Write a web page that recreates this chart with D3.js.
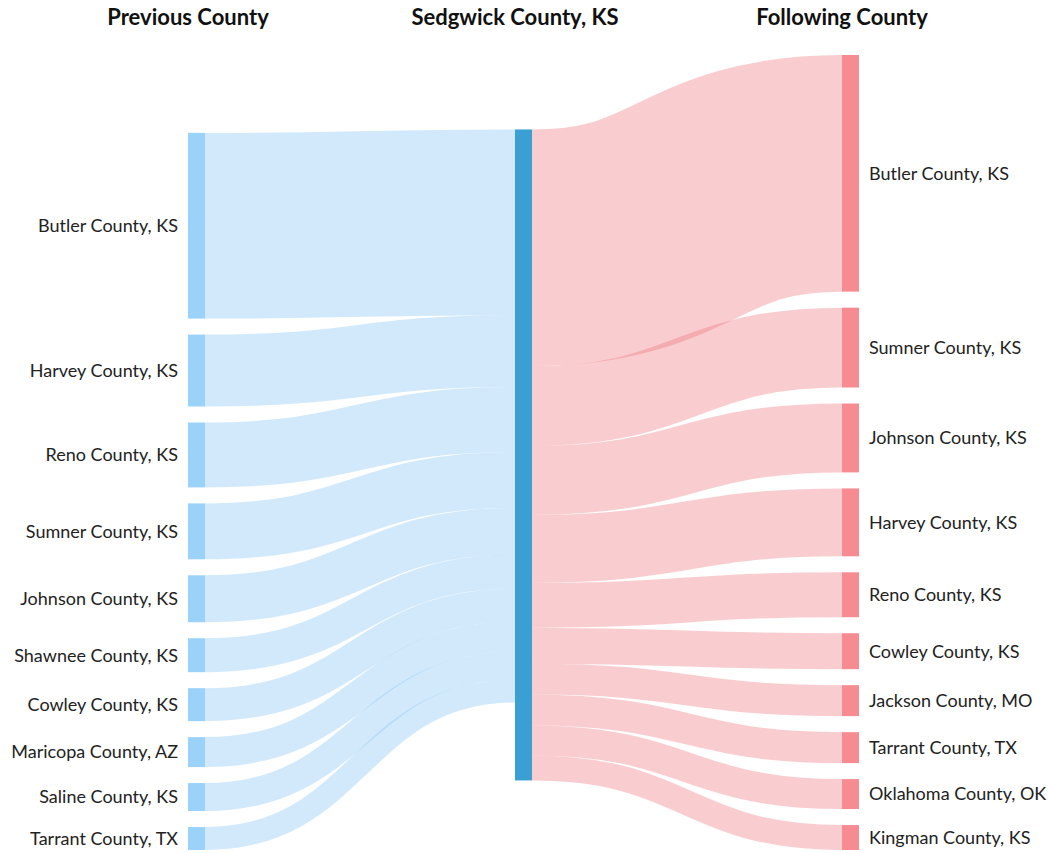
<!DOCTYPE html>
<html>
<head>
<meta charset="utf-8">
<script src="https://cdn.jsdelivr.net/npm/d3@7"></script>
<style>
  html, body { margin: 0; padding: 0; background: #fff; }
  svg { display: block; font-family: Lato, "Open Sans", sans-serif; }
</style>
</head>
<body>
<svg id="chart" width="1048" height="853"></svg>
<script>
// ---- data ----
const columnTitles = ["Previous County", "Sedgwick County, KS", "Following County"];
const centerCounty = "Sedgwick County, KS";
const prevCounties = ["Butler County, KS", "Harvey County, KS", "Reno County, KS", "Sumner County, KS",
  "Johnson County, KS", "Shawnee County, KS", "Cowley County, KS", "Maricopa County, AZ",
  "Saline County, KS", "Tarrant County, TX"];
const prevValues = [186, 72, 65, 56, 47, 34, 33, 30, 28, 23];
const nextCounties = ["Butler County, KS", "Sumner County, KS", "Johnson County, KS", "Harvey County, KS",
  "Reno County, KS", "Cowley County, KS", "Jackson County, MO", "Tarrant County, TX",
  "Oklahoma County, OK", "Kingman County, KS"];
const nextValues = [237, 80, 69, 68, 45, 36, 31, 31, 30, 25];

// ---- layout ----
const nodeW = 17, pad = 16;
const extTop = 55, extBottom = 850;
const colX = d3.scalePoint().domain([0, 1, 2]).range([188, 842]);

const sumPrev = d3.sum(prevValues), sumNext = d3.sum(nextValues);
const maxN = Math.max(prevValues.length, nextValues.length);
const ky = (extBottom - extTop - (maxN - 1) * pad) / Math.max(sumPrev, sumNext);
const hScale = d3.scaleLinear().domain([0, 1]).range([0, ky]);

function stack(values, names, alignBottom, col) {
  const total = d3.sum(values) * ky + (values.length - 1) * pad;
  let y = alignBottom ? extBottom - total : extTop;
  return values.map((v, i) => {
    const n = { name: names[i], value: v, col, y0: y, y1: y + hScale(v) };
    y = n.y1 + pad;
    return n;
  });
}
const leftNodes = stack(prevValues, prevCounties, true, 0);
const rightNodes = stack(nextValues, nextCounties, false, 2);

// center node: weighted relaxation towards connected nodes
let accIn = 0, sIn = 0;
leftNodes.forEach(n => { sIn += (n.y0 - hScale(accIn)) * n.value; accIn += n.value; });
let accOut = 0, sOut = 0;
rightNodes.forEach(n => { sOut += (n.y0 - hScale(accOut)) * n.value; accOut += n.value; });
const cY0 = (sIn + sOut) / (sumPrev + sumNext) - 4;
const centerNode = { name: centerCounty, value: Math.max(sumPrev, sumNext), col: 1, y0: cY0, y1: cY0 + hScale(Math.max(sumPrev, sumNext)) };

// links
const links = [];
let yc = centerNode.y0;
leftNodes.forEach(n => {
  const w = hScale(n.value);
  links.push({ side: "in", width: w, sy: n.y0 + w / 2, ty: yc + w / 2, sx: colX(0) + nodeW, tx: colX(1) });
  yc += w;
});
yc = centerNode.y0;
rightNodes.forEach(n => {
  const w = hScale(n.value);
  links.push({ side: "out", width: w, sy: yc + w / 2, ty: n.y0 + w / 2, sx: colX(1) + nodeW, tx: colX(2) });
  yc += w;
});

const colors = { left: "#9bd2fa", center: "#3a9fd3", right: "#f78b92", linkIn: "#7cc0f4", linkOut: "#ee7079" };

const svg = d3.select("#chart");
const linkGen = d3.linkHorizontal().x(d => d[0]).y(d => d[1]);

svg.append("g").attr("fill", "none")
  .selectAll("path").data(links).join("path")
  .attr("d", d => linkGen({ source: [d.sx, d.sy], target: [d.tx, d.ty] }))
  .attr("stroke", d => d.side === "in" ? colors.linkIn : colors.linkOut)
  .attr("stroke-opacity", 0.35)
  .attr("stroke-width", d => Math.max(1, d.width));

const allNodes = [...leftNodes, centerNode, ...rightNodes];
svg.append("g").selectAll("rect").data(allNodes).join("rect")
  .attr("x", d => colX(d.col))
  .attr("y", d => d.y0)
  .attr("width", nodeW)
  .attr("height", d => d.y1 - d.y0)
  .attr("fill", d => d.col === 0 ? colors.left : d.col === 1 ? colors.center : colors.right);

// labels
svg.append("g").attr("font-size", 18).attr("fill", "#222")
  .selectAll("text").data([...leftNodes, ...rightNodes]).join("text")
  .attr("x", d => d.col === 0 ? colX(0) - 10 : colX(2) + nodeW + 10)
  .attr("y", d => (d.y0 + d.y1) / 2)
  .attr("dy", "0.35em")
  .attr("text-anchor", d => d.col === 0 ? "end" : "start")
  .text(d => d.name);

// column titles
svg.append("g").attr("font-size", 22).attr("font-weight", "bold").attr("fill", "#111")
  .selectAll("text").data(columnTitles).join("text")
  .attr("x", (d, i) => colX(i))
  .attr("y", 25)
  .attr("text-anchor", "middle")
  .text(d => d);
</script>
</body>
</html>
